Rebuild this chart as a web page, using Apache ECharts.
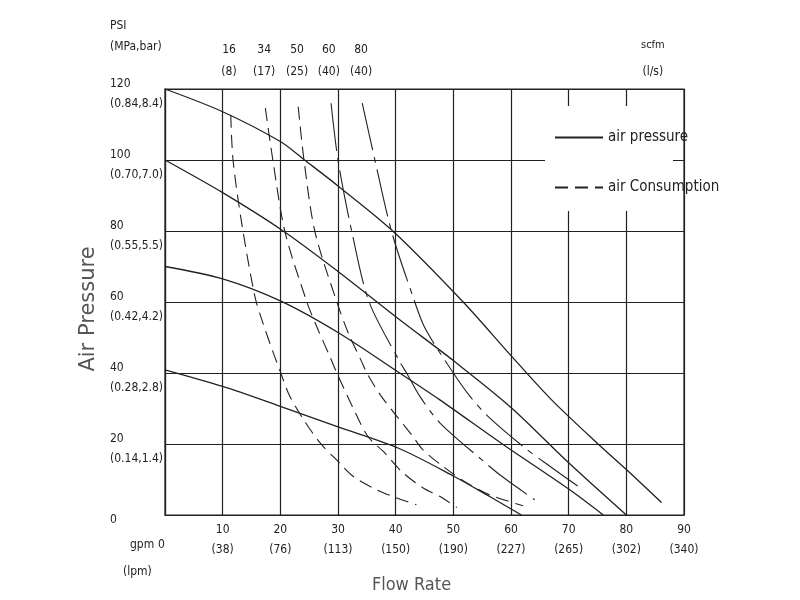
<!DOCTYPE html>
<html>

<head>
    <meta charset="utf-8">
    <script src="https://cdn.jsdelivr.net/npm/echarts@6.0.0/dist/echarts.min.js"></script>
    <style>
        html, body { margin: 0; padding: 0; background: #fff; }
    </style>
</head>

<body>
    <div id="echartsMain" style="width: 800px; height: 600px;"></div>
</body>

</html>

<script type="text/javascript">
    // bottom axis: gpm with lpm in brackets
    const gpmTicks = [0, 10, 20, 30, 40, 50, 60, 70, 80, 90]
    const lpmTicks = ['', '38', '76', '113', '150', '190', '227', '265', '302', '340']

    // left axis: psi with (MPa,bar)
    const psiTicks = [0, 20, 40, 60, 80, 100, 120]
    const psiSub = ['', '0.14,1.4', '0.28,2.8', '0.42,4.2', '0.55,5.5', '0.70,7.0', '0.84,8.4']

    // top labels: air consumption scfm (l/s), placed at the gpm where each curve starts
    const scfmPos = [11.1, 17.2, 22.9, 28.4, 34.0]
    const scfmVal = ['16', '34', '50', '60', '80']
    const lsVal = ['8', '17', '25', '40', '40']
    const unitPos = 84.6

    // air pressure curves [gpm, psi]
    const press120 = [[0, 120], [10, 113.6], [20, 105.2], [24.2, 100], [30, 92.7], [39.5, 80], [51.7, 60],
        [60, 44.9], [67, 32.5], [75.1, 20], [80, 12.8], [86.1, 3.5]]
    const press100 = [[0, 100], [10, 90.8], [20.5, 80], [30, 68.6], [40.7, 55], [50, 43.5], [60, 30.3],
        [70, 14.7], [80, 0]]
    const press70 = [[0, 70], [10, 66.5], [20, 60.3], [30, 51.4], [40.5, 40.2], [47.6, 32.5], [58.5, 20],
        [70, 7.3], [76, 0]]
    const press41 = [[0, 40.9], [10, 36.2], [20, 30.6], [30, 24.8], [40.5, 18.8], [50, 11], [56.3, 5.2], [61.8, 0]]

    // air consumption curves [gpm, psi]
    const cons16 = [[11.4, 112.7], [11.8, 100], [13.3, 82.2], [15.6, 61.5], [17, 54], [18.8, 45.6], [20, 40.4],
        [21.4, 34.3], [23.7, 27.7], [26.9, 20.3], [30, 15.1], [32.6, 10.9], [36.7, 7.1], [40.2, 4.8], [43.6, 2.9]]
    const cons34 = [[17.4, 114.6], [18.7, 100], [20.8, 79.8], [24.6, 60], [26.3, 53.1], [28.6, 44.6],
        [29.8, 40], [32.6, 30.2], [35.2, 22.1], [38.1, 17.5], [41, 12.3], [44.7, 7.7], [47.7, 5.2], [50.6, 2.1]]
    const cons50 = [[23.1, 115], [24.1, 100], [26, 79.8], [29.8, 60], [31.8, 51.2], [34.1, 43.2], [35, 40],
        [37.3, 33.9], [40.2, 27.8], [43, 22.1], [44.7, 18.4], [48.2, 13.7], [52, 9.4], [56.3, 5.7], [62.1, 2.6]]
    const cons60 = [[28.8, 116], [30, 100], [32.4, 79.8], [35.4, 60], [40.7, 43.2], [41.9, 40],
        [44.2, 33.4], [47.7, 25.9], [54.9, 15.6], [58.4, 10.9], [64.1, 4.3]]
    const cons80 = [[34.2, 116], [36.4, 100], [39.3, 79.8], [43, 61.5], [45.1, 52.6], [50, 40], [52.9, 33.4],
        [56, 27.8], [62.4, 18.9], [65.9, 14.7], [71.6, 8.1]]

    const ink = '#222'
    const cadFont = "'DejaVu Sans Condensed', 'DejaVu Sans', sans-serif"

    function draw() {
        let myChart = echarts.init(document.getElementById('echartsMain'))

        const pressSeries = [press120, press100, press70, press41].map(d => ({
            name: 'air pressure',
            type: 'line',
            data: d,
            smooth: 0.3,
            symbol: 'none',
            lineStyle: { color: ink, width: 1.3, type: 'solid' },
            itemStyle: { color: ink }
        }))
        const consSeries = [cons16, cons34, cons50, cons60, cons80].map((d, i) => ({
            name: 'air Consumption',
            type: 'line',
            data: d,
            smooth: 0.3,
            symbol: 'none',
            lineStyle: { color: ink, width: 1.1, type: i < 3 ? [13, 7] : [48, 7, 6, 7] },
            itemStyle: { color: ink }
        }))

        let option = {
            backgroundColor: '#fff',
            animation: false,
            textStyle: { fontFamily: cadFont },
            grid: {
                left: 165, right: 116, top: 89, bottom: 85,
                show: true, borderColor: ink, borderWidth: 1.2
            },
            legend: {
                data: ['air pressure', 'air Consumption'],
                orient: 'vertical',
                left: 549,
                top: 125,
                itemWidth: 48,
                itemHeight: 14,
                itemGap: 35,
                itemStyle: { opacity: 0 },
                textStyle: { fontSize: 15, color: ink, fontFamily: cadFont }
            },
            xAxis: [{
                type: 'value',
                min: 0, max: 90, interval: 10,
                name: 'Flow Rate',
                nameLocation: 'middle',
                nameGap: 61,
                nameTextStyle: { fontSize: 18, color: '#555', fontFamily: cadFont, padding: [0, 26, 0, 0] },
                axisLine: { show: true, lineStyle: { color: ink, width: 1.2 } },
                axisTick: { show: false },
                splitLine: { show: true, lineStyle: { color: ink, width: 1.2 } },
                axisLabel: {
                    margin: 5,
                    fontSize: 12,
                    lineHeight: 20,
                    color: ink,
                    formatter: v => {
                        let i = gpmTicks.indexOf(v)
                        return i > 0 ? v + '\n(' + lpmTicks[i] + ')' : ''
                    }
                }
            }, {
                type: 'value',
                position: 'top',
                min: 0, max: 90,
                axisLine: { show: true, lineStyle: { color: ink, width: 1.2 } },
                axisTick: { show: false },
                splitLine: { show: false },
                axisLabel: {
                    customValues: scfmPos.concat([unitPos]),
                    margin: 6,
                    fontSize: 12,
                    lineHeight: 22,
                    color: ink,
                    formatter: v => {
                        if (v === unitPos) return '{u|scfm}\n(l/s)'
                        let i = scfmPos.indexOf(v)
                        return i >= 0 ? scfmVal[i] + '\n(' + lsVal[i] + ')' : ''
                    },
                    rich: { u: { fontSize: 11, lineHeight: 32, color: ink, fontFamily: cadFont } }
                }
            }],
            yAxis: {
                type: 'value',
                min: 0, max: 120, interval: 20,
                name: 'Air Pressure',
                nameLocation: 'middle',
                nameGap: 66,
                nameTextStyle: { fontSize: 21, color: '#555', fontFamily: "'DejaVu Sans', sans-serif", padding: [0, 14, 0, 0] },
                axisLine: { show: true, lineStyle: { color: ink, width: 1.2 } },
                axisTick: { show: false },
                splitLine: { show: true, lineStyle: { color: ink, width: 1.2 } },
                axisLabel: {
                    align: 'left',
                    margin: 55,
                    fontSize: 12,
                    lineHeight: 20,
                    color: ink,
                    formatter: v => {
                        let i = psiTicks.indexOf(v)
                        // small blank first line nudges the block below the grid line
                        return '{e| }\n' + (i > 0 ? v + '\n(' + psiSub[i] + ')' : '' + v)
                    },
                    rich: { e: { fontSize: 1, lineHeight: 10 } }
                }
            },
            graphic: [{
                type: 'rect',
                z: 1,
                shape: { x: 545, y: 106, width: 128, height: 105 },
                style: { fill: '#fff' }
            }, {
                type: 'text',
                left: 110, top: 15,
                style: { text: 'PSI\n(MPa,bar)', font: '12px ' + cadFont, fill: ink, lineHeight: 21 }
            }, {
                type: 'text',
                left: 130, top: 539,
                style: { text: 'gpm', font: '12px ' + cadFont, fill: ink }
            }, {
                type: 'text',
                left: 158, top: 539,
                style: { text: '0', font: '12px ' + cadFont, fill: ink }
            }, {
                type: 'text',
                left: 123, top: 566,
                style: { text: '(lpm)', font: '12px ' + cadFont, fill: ink }
            }],
            series: consSeries.concat(pressSeries)
        }
        myChart.setOption(option)
    }

    draw()
</script>
